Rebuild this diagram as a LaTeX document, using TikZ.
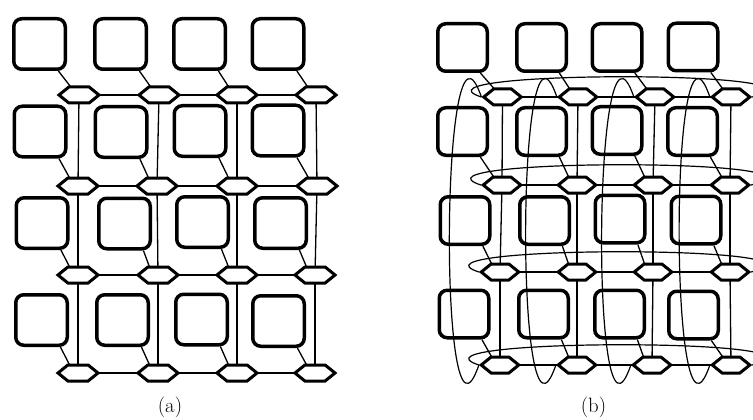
\documentclass[tikz,border=0pt]{standalone}
\usetikzlibrary{shapes.symbols}
\begin{document}
\begin{tikzpicture}[x=1pt,y=-1pt,
  sqa/.style={draw, line width=3.5pt, rounded corners=8pt, minimum width=51.5pt, minimum height=50.5pt, inner sep=0pt},
  sqb/.style={draw, line width=3.5pt, rounded corners=8pt, minimum width=49.5pt, minimum height=47.5pt, inner sep=0pt},
  hexa/.style={shape=signal, signal to=east and west, signal pointer angle=78, draw, line width=3pt, fill=white, minimum width=40pt, minimum height=16pt, inner sep=0pt},
  hexb/.style={hexa, minimum width=37.5pt},
  link/.style={line width=1.3pt},
  wrap/.style={line width=1.2pt},
  lab/.style={font=\fontsize{20.74}{25}\selectfont, inner sep=0pt}]
\useasboundingbox (0,0) rectangle (753,420);
% ---------- panel (a) ----------
\foreach \r/\c/\x/\y in {1/1/39.5/44, 1/2/120.5/44, 1/3/199.5/44, 1/4/278/44,
  2/1/40/131.5, 2/2/121/132, 2/3/200/131, 2/4/278/130.5,
  3/1/42/223, 3/2/124.5/223.5, 3/3/202.5/222, 3/4/280.5/223,
  4/1/41.5/320, 4/2/122.5/320, 4/3/201.5/319.5, 4/4/278.5/321}
  \node[sqa] (sa-\r-\c) at (\x,\y) {};
\foreach \r/\c/\x/\y in {1/1/79/95, 1/2/159/95, 1/3/237/95, 1/4/316/95,
  2/1/78/186, 2/2/157/186, 2/3/237/186, 2/4/317/186,
  3/1/78/275, 3/2/158/275, 3/3/237/275, 3/4/315/275,
  4/1/78/373, 4/2/158/373, 4/3/237/373, 4/4/315/373}
  \coordinate (ca-\r-\c) at (\x,\y);
% ---------- panel (b) ----------
\foreach \r/\c/\x/\y in {1/1/462.5/47.5, 1/2/541.5/47.5, 1/3/617/47.5, 1/4/693/47,
  2/1/462.5/131.5, 2/2/541.5/131.5, 2/3/617/130.5, 2/4/692.5/131.5,
  3/1/465/220.5, 3/2/544.5/220.5, 3/3/620/219, 3/4/696/220,
  4/1/464/314, 4/2/543.5/314, 4/3/619.5/314, 4/4/693.5/315}
  \node[sqb] (sb-\r-\c) at (\x,\y) {};
\foreach \r/\c/\x/\y in {1/1/502.5/97, 1/2/578/97, 1/3/655/97, 1/4/731/97,
  2/1/502/185, 2/2/577/185, 2/3/653/185, 2/4/730/185,
  3/1/500/272, 3/2/577/272, 3/3/653/272, 3/4/730/272,
  4/1/500/365, 4/2/577/365, 4/3/652/365, 4/4/731/365}
  \coordinate (cb-\r-\c) at (\x,\y);
% links (drawn below the hexagons)
\foreach \p in {a,b} {
  \foreach \r in {1,2,3,4} {
    \foreach \c/\d in {1/2,2/3,3/4}
      \draw[link] (c\p-\r-\c) -- (c\p-\r-\d);
  }
  \foreach \c in {1,2,3,4} {
    \foreach \r/\s in {1/2,2/3,3/4}
      \draw[link] (c\p-\r-\c) -- (c\p-\s-\c);
  }
}
% hexagons
\foreach \r in {1,2,3,4} {
  \foreach \c in {1,2,3,4} {
    \node[hexa] (ha-\r-\c) at (ca-\r-\c) {};
    \node[hexb] (hb-\r-\c) at (cb-\r-\c) {};
    \draw[link] (sa-\r-\c.-55) -- (ha-\r-\c.135);
    \draw[link] (sb-\r-\c.-55) -- (hb-\r-\c.135);
  }
}
% wrap-around links of panel (b)
\foreach \c in {1,2,3,4}
  \draw[wrap] (hb-1-\c.west) .. controls +(-41,-120) and +(-41,120) .. (hb-4-\c.west);
\foreach \r in {1,2,3,4}
  \draw[wrap] (hb-\r-1.west) .. controls +(-83,-27) and +(100,-27) .. (hb-\r-4.east);
% captions
\node[lab] (capa) at (170,407) {(a)};
\node[lab] (capb) at (593.5,407) {(b)};
\end{tikzpicture}
\end{document}
